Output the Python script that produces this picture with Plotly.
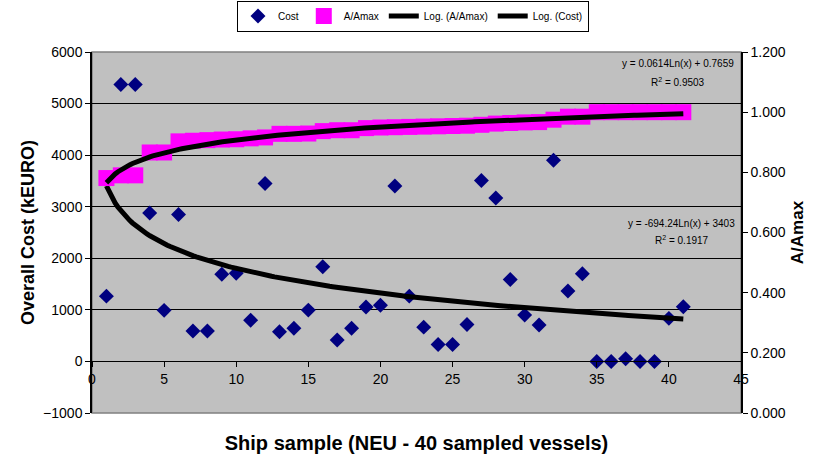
import numpy as np
import plotly.graph_objects as go

# ---- data ----
ship = list(range(1, 42))
cost = [1266, 5370, 5370, 2880, 990, 2850, 590, 590, 1690, 1710,
        800, 3450, 575, 645, 995, 1835, 415, 645, 1055, 1090,
        3400, 1266, 665, 330, 330, 717, 3508, 3170, 1590, 898,
        705, 3900, 1365, 1700, 0, 0, 52, 0, 0, 835, 1060]
a_amax = [0.781, 0.790, 0.790, 0.866, 0.866, 0.903, 0.905, 0.907, 0.909, 0.910,
          0.913, 0.916, 0.928, 0.928, 0.929, 0.937, 0.940, 0.940, 0.947, 0.949,
          0.950, 0.951, 0.952, 0.953, 0.954, 0.955, 0.958, 0.962, 0.964, 0.966,
          0.967, 0.975, 0.985, 0.985, 1.0, 1.0, 1.0, 1.0, 1.0, 1.0, 1.0]
eq_a = ["y = 0.0614Ln(x) + 0.7659", "R<sup>2</sup> = 0.9503"]
eq_cost = ["y = -694.24Ln(x) + 3403", "R<sup>2</sup> = 0.1917"]

# logarithmic trendlines fitted to the data (as the spreadsheet does)
xs = np.array(ship, dtype=float)
lx = np.log(xs)
ka, ba = np.polyfit(lx, np.array(a_amax), 1)
kc, bc = np.polyfit(lx, np.array(cost, dtype=float), 1)
xfit = np.linspace(1, 41, 200)

FONT = "Liberation Sans, Arial, sans-serif"

fig = go.Figure()
fig.add_trace(go.Scatter(x=ship, y=cost, mode="markers", name="Cost",
                         marker=dict(symbol="diamond", size=11.5, color="#000080"),
                         legendrank=1, yaxis="y"))
fig.add_trace(go.Scatter(x=xfit, y=kc * np.log(xfit) + bc, mode="lines",
                         name="Log. (Cost)", line=dict(color="black", width=5),
                         legendrank=4, yaxis="y"))
fig.add_trace(go.Scatter(x=ship, y=a_amax, mode="markers", name="A/Amax",
                         marker=dict(symbol="square", size=16, color="#FF00FF"),
                         legendrank=2, yaxis="y2"))
fig.add_trace(go.Scatter(x=xfit, y=ka * np.log(xfit) + ba, mode="lines",
                         name="Log. (A/Amax)", line=dict(color="black", width=5),
                         legendrank=3, yaxis="y2"))

fig.update_layout(
    width=825, height=459,
    margin=dict(l=92, r=84, t=52, b=46, autoexpand=False),
    paper_bgcolor="white", plot_bgcolor="#C0C0C0",
    font=dict(family=FONT, size=14, color="black"),
    showlegend=True,
    legend=dict(orientation="h", x=0.4946, y=1.0997, xanchor="center", yanchor="middle",
                bgcolor="white", bordercolor="black", borderwidth=1,
                font=dict(size=10), itemwidth=30, tracegroupgap=0),
    xaxis=dict(range=[0, 45], dtick=5, tick0=0, showgrid=False, zeroline=False,
               anchor="free", position=1 / 7, showline=True, linecolor="black", linewidth=1,
               ticks="outside", ticklen=5, tickcolor="black",
               title=dict(text="<b>Ship sample (NEU - 40 sampled vessels)</b>",
                          font=dict(size=20), standoff=49),
               automargin=False),
    yaxis=dict(range=[-1000, 6000], dtick=1000, tick0=0, showgrid=True, gridcolor="black",
               gridwidth=1, zeroline=False, showline=True, linecolor="black", linewidth=1.5,
               ticks="outside", ticklen=5, tickcolor="black",
               title=dict(text="<b>Overall Cost (kEURO)</b>", font=dict(size=18), standoff=4),
               automargin=False),
    yaxis2=dict(range=[0, 1.2], dtick=0.2, tick0=0, overlaying="y", side="right",
                tickformat=".3f", showgrid=False, zeroline=False, showline=True,
                linecolor="black", linewidth=1.5, ticks="outside", ticklen=5, tickcolor="black",
                title=dict(text="<b>A/Amax</b>", font=dict(size=17), standoff=6),
                automargin=False),
    shapes=[dict(type="rect", xref="paper", yref="paper", x0=0, x1=1, y0=0, y1=1,
                 line=dict(color="#808080", width=1.5), layer="below")],
)

ann_font = dict(size=10, color="black", family=FONT)
for txt, yy in zip(eq_a, [0.967, 0.918]):
    fig.add_annotation(text=txt, xref="paper", yref="paper", x=0.903, y=yy,
                       showarrow=False, font=ann_font, xanchor="center", yanchor="middle")
for txt, yy in zip(eq_cost, [0.5255, 0.479]):
    fig.add_annotation(text=txt, xref="paper", yref="paper", x=0.909, y=yy,
                       showarrow=False, font=ann_font, xanchor="center", yanchor="middle")

# remove the default 8px page margin so the figure fills the window exactly
fig.write_html("out.html", config={"displayModeBar": False},
               post_script="document.body.style.margin='0';document.body.style.overflow='hidden';")
